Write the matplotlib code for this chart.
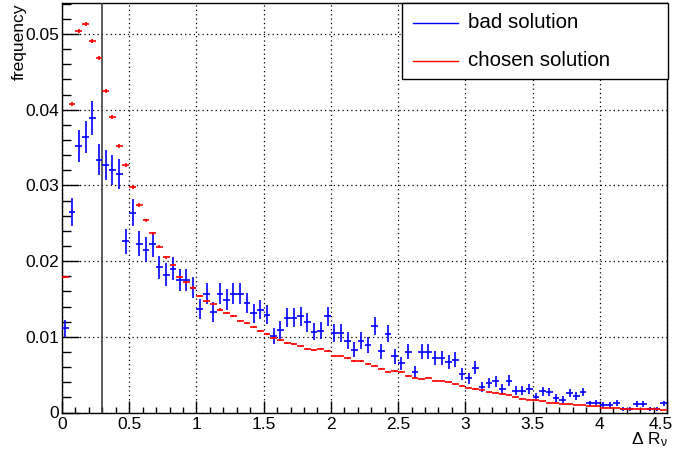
import numpy as np
import matplotlib
matplotlib.use("Agg")
import matplotlib.pyplot as plt
from matplotlib.ticker import MultipleLocator
from matplotlib.patches import Rectangle
from matplotlib.lines import Line2D
from matplotlib.transforms import ScaledTranslation

plt.rcParams['font.family'] = ['Liberation Sans', 'DejaVu Sans']
plt.rcParams['mathtext.fontset'] = 'custom'
plt.rcParams['mathtext.rm'] = 'Liberation Sans'
plt.rcParams['mathtext.it'] = 'Liberation Sans'

# histogram: 90 bins of width 0.05 from 0 to 4.5
bin_lo = 0.0
bin_hi = 4.5
n_bins = 90

bad_solution = [
    0.0111, 0.0265, 0.0352, 0.0364, 0.0389, 0.0334, 0.0327, 0.0320, 0.0315, 0.0226,
    0.0264, 0.0223, 0.0215, 0.0222, 0.0192, 0.0182, 0.0190, 0.0175, 0.0175, 0.0165,
    0.0137, 0.0157, 0.0133, 0.0157, 0.0149, 0.0157, 0.0157, 0.0145, 0.0131, 0.0136,
    0.0129, 0.0101, 0.0109, 0.0125, 0.0125, 0.0127, 0.0119, 0.0107, 0.0108, 0.0127,
    0.0105, 0.0105, 0.0095, 0.0083, 0.0095, 0.0089, 0.0114, 0.0081, 0.0104, 0.0074,
    0.0065, 0.0080, 0.0053, 0.0080, 0.0080, 0.0072, 0.0072, 0.0067, 0.0070, 0.0051,
    0.0045, 0.0059, 0.0034, 0.0039, 0.0041, 0.0031, 0.0042, 0.0029, 0.0029, 0.0031,
    0.0021, 0.0028, 0.0027, 0.0019, 0.0017, 0.0026, 0.0022, 0.0027, 0.0012, 0.0013,
    0.0010, 0.0010, 0.0013, 0.0005, 0.0005, 0.0011, 0.0011, 0.0005, 0.0005, 0.0012,
]

chosen_solution = [
    0.0179, 0.0408, 0.0504, 0.0513, 0.0491, 0.0468, 0.0425, 0.0390, 0.0352, 0.0327,
    0.0298, 0.0274, 0.0254, 0.0237, 0.0219, 0.0205, 0.0195, 0.0179, 0.0172, 0.0165,
    0.0154, 0.0147, 0.0143, 0.0136, 0.0131, 0.0127, 0.0121, 0.0118, 0.0113, 0.0108,
    0.0104, 0.0099, 0.0096, 0.0092, 0.0091, 0.0088, 0.0084, 0.0083, 0.0084, 0.0081,
    0.0074, 0.0074, 0.0072, 0.0068, 0.0068, 0.0064, 0.0062, 0.0058, 0.0054, 0.0055,
    0.0054, 0.0048, 0.0046, 0.0044, 0.0046, 0.0042, 0.0042, 0.0040, 0.0037, 0.0035,
    0.0033, 0.0031, 0.0030, 0.0027, 0.0026, 0.0024, 0.0023, 0.0020, 0.0018, 0.0017,
    0.0016, 0.0015, 0.0013, 0.0012, 0.0011, 0.0011, 0.0010, 0.0010, 0.0009, 0.0008,
    0.0006, 0.0006, 0.0006, 0.0005, 0.0005, 0.0005, 0.0004, 0.0004, 0.0004, 0.0003,
]

# statistical error scale (error = k * sqrt(content))
bad_err_scale = 0.0111
chosen_err_scale = 0.0013

cut_value = 0.3
x_ticks = [0, 0.5, 1, 1.5, 2, 2.5, 3, 3.5, 4, 4.5]
x_tick_labels = ["0", "0.5", "1", "1.5", "2", "2.5", "3", "3.5", "4", "4.5"]
y_ticks = [0, 0.01, 0.02, 0.03, 0.04, 0.05]
y_tick_labels = ["0", "0.01", "0.02", "0.03", "0.04", "0.05"]

W, H = 675, 455
fig = plt.figure(figsize=(W / 100, H / 100), dpi=100)
ax = fig.add_axes([62 / W, 1 - 412.5 / H, (667 - 62) / W, (412.5 - 3) / H])

edges = np.linspace(bin_lo, bin_hi, n_bins + 1)
centers = 0.5 * (edges[:-1] + edges[1:])
half_w = 0.5 * (edges[1] - edges[0])

bad = np.array(bad_solution)
cho = np.array(chosen_solution)

ax.errorbar(centers, bad, xerr=half_w, yerr=bad_err_scale * np.sqrt(bad),
            fmt='none', ecolor='#0000ff', elinewidth=1.2, capsize=0, zorder=4)
ax.errorbar(centers, cho, xerr=half_w, yerr=chosen_err_scale * np.sqrt(cho),
            fmt='none', ecolor='#ff0000', elinewidth=1.2, capsize=0, zorder=5)

ax.axvline(cut_value, color='#404040', lw=1.2, zorder=3)

ax.set_xlim(bin_lo, bin_hi)
ax.set_ylim(0, 0.0541)
ax.set_xticks(x_ticks)
ax.set_xticklabels(x_tick_labels)
ax.set_yticks(y_ticks)
ax.set_yticklabels(y_tick_labels)
ax.xaxis.set_minor_locator(MultipleLocator(0.1))
ax.yaxis.set_minor_locator(MultipleLocator(0.002))
ax.tick_params(axis='both', which='both', direction='in', top=False, right=False,
               labelsize=12.5, colors='black')
ax.tick_params(axis='y', which='major', length=12.2, width=1, pad=2)
ax.tick_params(axis='y', which='minor', length=6.5, width=1)
ax.tick_params(axis='x', which='major', length=8.6, width=1, pad=3)
ax.tick_params(axis='x', which='minor', length=4.2, width=1)
ax.grid(True, which='major', color='black', linestyle=(0, (1, 2.5)), linewidth=0.9)
ax.set_axisbelow(True)
for s in ax.spines.values():
    s.set_linewidth(1)
    s.set_color('black')

# keep the last x label inside the canvas, as in the reference
last_lbl = ax.get_xticklabels()[-1]
last_lbl.set_transform(last_lbl.get_transform() + ScaledTranslation(-6 / 100, 0, fig.dpi_scale_trans))

fig.text(19 / W, 1 - 3 / H, "frequency", rotation=90, ha='center', va='top', fontsize=12.5)
fig.text(668 / W, 1 - 440 / H, r"$\Delta\ \mathrm{R}_{\nu}$", ha='right', va='center', fontsize=12.5)

# legend box (axes fraction coordinates from pixel positions)
def ax_frac(px, py):
    return ((px - 62) / (667 - 62), (412.5 - py) / (412.5 - 3))

x0, y0 = ax_frac(402, 79)
x1, y1 = ax_frac(667.5, 3)
ax.add_patch(Rectangle((x0, y0), x1 - x0, y1 - y0, transform=ax.transAxes,
                       facecolor='white', edgecolor='black', lw=1, zorder=10, clip_on=False))
for (py, col, label) in [(22.5, '#0000ff', 'bad solution'), (61, '#ff0000', 'chosen solution')]:
    lx0, ly = ax_frac(413, py)
    lx1, _ = ax_frac(458, py)
    ax.add_line(Line2D([lx0, lx1], [ly, ly], transform=ax.transAxes, color=col, lw=1,
                       zorder=11, clip_on=False))
    tx, _ = ax_frac(468, py)
    ax.text(tx, ly, label, transform=ax.transAxes, ha='left', va='center',
            fontsize=14.8, zorder=12)

fig.savefig("out.png", dpi=100)
